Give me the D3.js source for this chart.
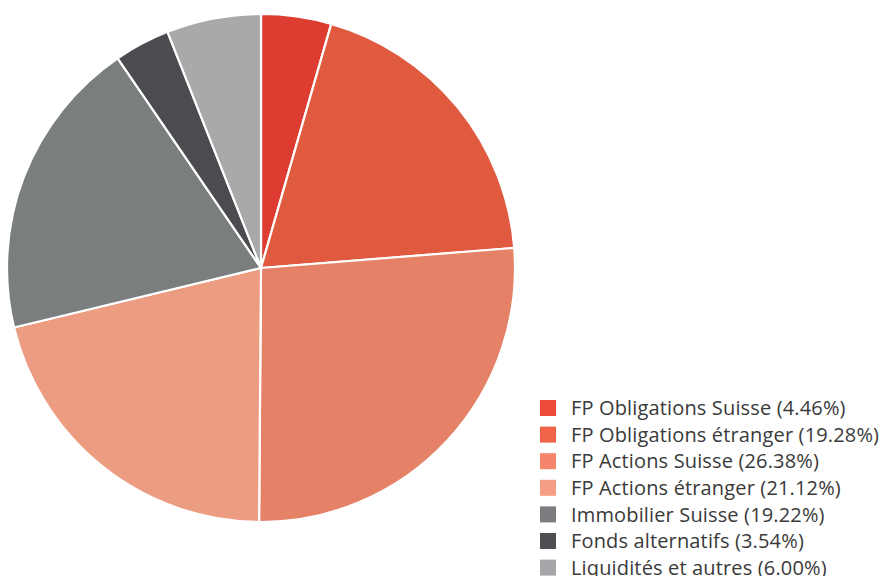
<!DOCTYPE html>
<html>
<head>
<meta charset="utf-8">
<script src="https://cdn.jsdelivr.net/npm/d3@7"></script>
<style>
  html, body { margin: 0; padding: 0; background: #fff; }
  svg { display: block; }
</style>
</head>
<body>
<svg id="chart" width="882" height="576"></svg>
<script>
/* Portfolio allocation pie */
const labels = [
  "FP Obligations Suisse",
  "FP Obligations étranger",
  "FP Actions Suisse",
  "FP Actions étranger",
  "Immobilier Suisse",
  "Fonds alternatifs",
  "Liquidités et autres"
];
const shares = [4.46, 19.28, 26.38, 21.12, 19.22, 3.54, 6.00];
const sliceColors = ["#dd3d31", "#e05a40", "#e58166", "#ec9c81", "#7b7e7f", "#4a4c4f", "#a8a9ab"];
const legendColors = ["#ee4b3c", "#f06448", "#f4846a", "#f59e85", "#7b7c80", "#4d4f53", "#a5a7aa"];

const svg = d3.select("#chart");
const cx = 261, cy = 268, radius = 254;

const pie = d3.pie().sort(null).value(d => d);
const arc = d3.arc().innerRadius(0).outerRadius(radius);

const g = svg.append("g").attr("transform", `translate(${cx},${cy})`);

g.selectAll("path.slice")
  .data(pie(shares))
  .join("path")
  .attr("class", "slice")
  .attr("d", arc)
  .attr("fill", (d, i) => sliceColors[i])
  .attr("stroke", "#fff")
  .attr("stroke-width", 2.2)
  .attr("stroke-linejoin", "round");

// Legend
const legend = svg.append("g").attr("transform", "translate(540,408)");
const rowH = 26.6;

const rows = legend.selectAll("g.row")
  .data(labels)
  .join("g")
  .attr("class", "row")
  .attr("transform", (d, i) => `translate(0,${i * rowH})`);

rows.append("rect")
  .attr("x", 0).attr("y", -8)
  .attr("width", 16).attr("height", 16)
  .attr("fill", (d, i) => legendColors[i]);

rows.append("text")
  .attr("x", 31)
  .attr("y", 0)
  .attr("dy", "0.36em")
  .style("font-family", "'Open Sans', sans-serif")
  .style("font-size", "20px")
  .style("letter-spacing", "0.15px")
  .style("fill", "#3a3a3a")
  .text((d, i) => `${d} (${shares[i].toFixed(2)}%)`);
</script>
</body>
</html>
